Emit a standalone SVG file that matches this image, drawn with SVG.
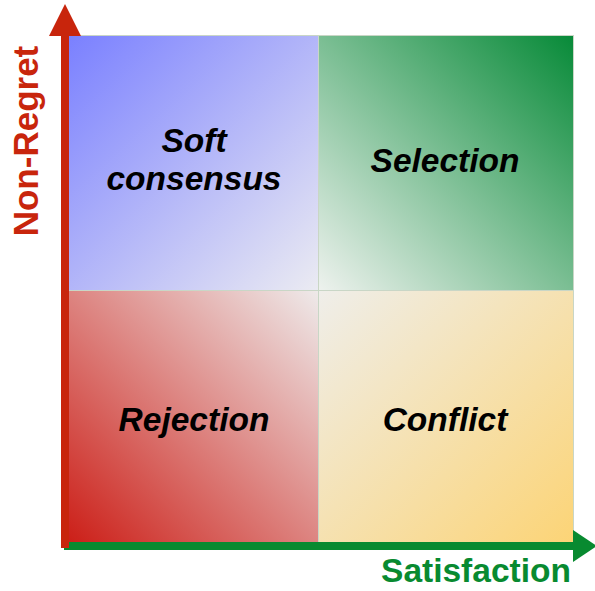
<svg xmlns="http://www.w3.org/2000/svg" width="595" height="591" viewBox="0 0 595 591">
<defs>
<linearGradient id="gTL" x1="0" y1="0" x2="1" y2="1"><stop offset="0" stop-color="#7a80ff"/><stop offset="1" stop-color="#ebebf2"/></linearGradient>
<linearGradient id="gTR" x1="1" y1="0" x2="0" y2="1"><stop offset="0" stop-color="#078a38"/><stop offset="1" stop-color="#eef2ee"/></linearGradient>
<linearGradient id="gBL" x1="0" y1="1" x2="1" y2="0"><stop offset="0" stop-color="#cc1f18"/><stop offset="1" stop-color="#eeeaea"/></linearGradient>
<linearGradient id="gBR" x1="1" y1="1" x2="0" y2="0"><stop offset="0" stop-color="#fcd476"/><stop offset="1" stop-color="#efeeea"/></linearGradient>
<style>
.q{stroke:#c9d6c6;stroke-width:1}
.lbl{font-family:"Liberation Sans",Arial,sans-serif;font-weight:bold;font-style:italic;font-size:33.5px;fill:#000;text-anchor:middle}
.ax{font-family:"Liberation Sans",Arial,sans-serif;font-weight:bold;font-size:33.5px;text-anchor:middle}
</style>
</defs>
<g id="quadrants">
<g id="soft-consensus"><rect class="q" x="68.5" y="35.5" width="250" height="255" fill="url(#gTL)"/><text class="lbl" x="194" y="152">Soft</text><text class="lbl" x="194" y="190">consensus</text></g>
<g id="selection"><rect class="q" x="318.5" y="35.5" width="255" height="255" fill="url(#gTR)"/><text class="lbl" x="445" y="172">Selection</text></g>
<g id="rejection"><rect class="q" x="68.5" y="290.5" width="250" height="252" fill="url(#gBL)"/><text class="lbl" x="194" y="431">Rejection</text></g>
<g id="conflict"><rect class="q" x="318.5" y="290.5" width="255" height="252" fill="url(#gBR)"/><text class="lbl" x="445" y="431">Conflict</text></g>
</g>
<g id="connectors">
<g id="x-axis"><rect x="64" y="542" width="511" height="8" fill="#088a30"/><polygon points="573,530 597,546 573,562" fill="#088a30"/></g>
<g id="y-axis"><rect x="61" y="34" width="8" height="514" fill="#c8250c"/><polygon points="49,36 65,4 81,36" fill="#c8250c"/></g>
</g>
<text class="ax" x="476" y="582" fill="#088a30">Satisfaction</text>
<text class="ax" transform="translate(38,141) rotate(-90)" x="0" y="0" fill="#c8250c" style="font-size:35px">Non-Regret</text>
</svg>
